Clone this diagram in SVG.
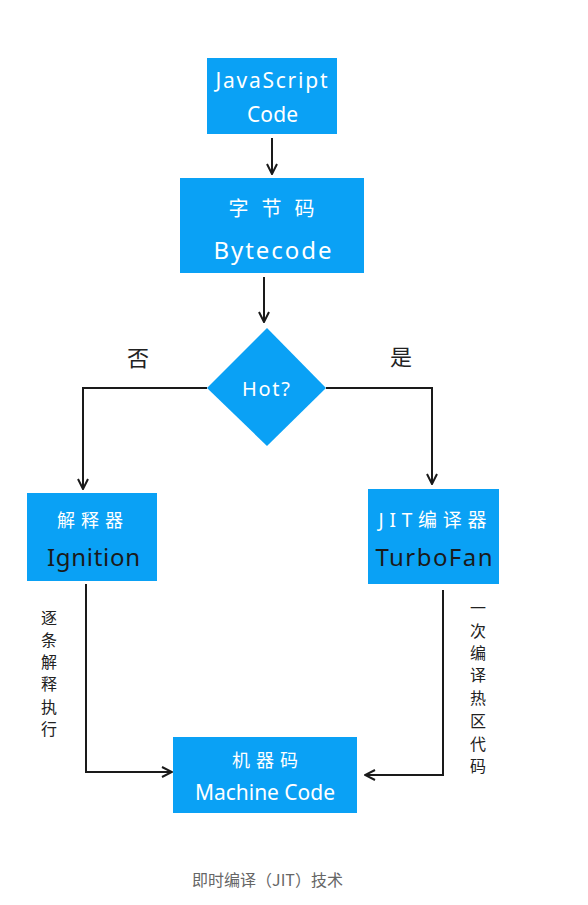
<svg xmlns="http://www.w3.org/2000/svg" width="588" height="905" viewBox="0 0 588 905">
<defs>
<style>
.box{fill:#0aa1f5;}
.t{font-family:"Noto Sans","Noto Sans CJK SC",sans-serif;text-anchor:middle;dominant-baseline:central;}
.w{fill:#ffffff;}
.k{fill:#1a1a1a;}
.c{fill:none;stroke:#1a1a1a;stroke-width:2;}
.lbl{font-family:"Noto Sans CJK SC",sans-serif;fill:#222;text-anchor:middle;dominant-baseline:central;}
</style>
<marker id="arr" viewBox="0 0 12 12" refX="11" refY="6" markerWidth="12" markerHeight="12" markerUnits="userSpaceOnUse" orient="auto">
<path d="M1,1 L11,6 L1,11" fill="none" stroke="#1a1a1a" stroke-width="2"/>
</marker>
</defs>
<rect width="588" height="905" fill="#ffffff"/>
<g id="connectors">
<path class="c" d="M272,138 V174" marker-end="url(#arr)"/>
<path class="c" d="M264,277 V322" marker-end="url(#arr)"/>
<path class="c" d="M207,388 H83 V489" marker-end="url(#arr)"/>
<path class="c" d="M326,388 H432 V484" marker-end="url(#arr)"/>
<path class="c" d="M86,584 V772 H172" marker-end="url(#arr)"/>
<path class="c" d="M443,590 V775 H365" marker-end="url(#arr)"/>
</g>
<g id="js">
<rect class="box" x="207" y="58" width="130" height="76"/>
<text class="t w" x="271.5" y="80" font-size="21" textLength="112">JavaScript</text>
<text class="t w" x="272.5" y="114" font-size="21" textLength="51">Code</text>
</g>
<g id="bytecode">
<rect class="box" x="180" y="178" width="184" height="95"/>
<text class="t w" x="271.5" y="208" font-size="20" textLength="86">字节码</text>
<text class="t w" x="272.5" y="249" font-size="24" textLength="118">Bytecode</text>
</g>
<g id="hot">
<polygon class="box" points="267,328 326,388 267,446 207,388"/>
<text class="t w" x="266" y="388" font-size="20" textLength="48">Hot?</text>
</g>
<g id="labels">
<text class="lbl" x="138" y="356" font-size="22">否</text>
<text class="lbl" x="401" y="355" font-size="22">是</text>
</g>
<g id="ignition">
<rect class="box" x="27" y="493" width="130" height="88"/>
<text class="t w" x="90" y="520" font-size="18" textLength="66">解释器</text>
<text class="t k" x="93.5" y="556" font-size="24" textLength="93">Ignition</text>
</g>
<g id="turbofan">
<rect class="box" x="368" y="489" width="131" height="95"/>
<text class="t w" x="432.5" y="520" font-size="19" textLength="108">JIT编译器</text>
<text class="t k" x="434" y="556" font-size="24" textLength="117">TurboFan</text>
</g>
<g id="machine">
<rect class="box" x="173" y="737" width="184" height="76"/>
<text class="t w" x="265" y="760" font-size="18" textLength="66">机器码</text>
<text class="t w" x="265" y="792" font-size="21" textLength="140">Machine Code</text>
</g>
<g id="left-note" font-size="16">
<text class="lbl" x="49" y="617">逐</text>
<text class="lbl" x="49" y="639">条</text>
<text class="lbl" x="49" y="661">解</text>
<text class="lbl" x="49" y="683">释</text>
<text class="lbl" x="49" y="706">执</text>
<text class="lbl" x="49" y="728">行</text>
</g>
<g id="right-note" font-size="16">
<text class="lbl" x="478" y="607">一</text>
<text class="lbl" x="478" y="630">次</text>
<text class="lbl" x="478" y="652">编</text>
<text class="lbl" x="478" y="674">译</text>
<text class="lbl" x="478" y="697">热</text>
<text class="lbl" x="478" y="720">区</text>
<text class="lbl" x="478" y="743">代</text>
<text class="lbl" x="478" y="765">码</text>
</g>
<text x="267.5" y="879" font-family="Noto Sans CJK SC, sans-serif" font-size="16" fill="#666" text-anchor="middle" dominant-baseline="central" textLength="151">即时编译（JIT）技术</text>
</svg>
